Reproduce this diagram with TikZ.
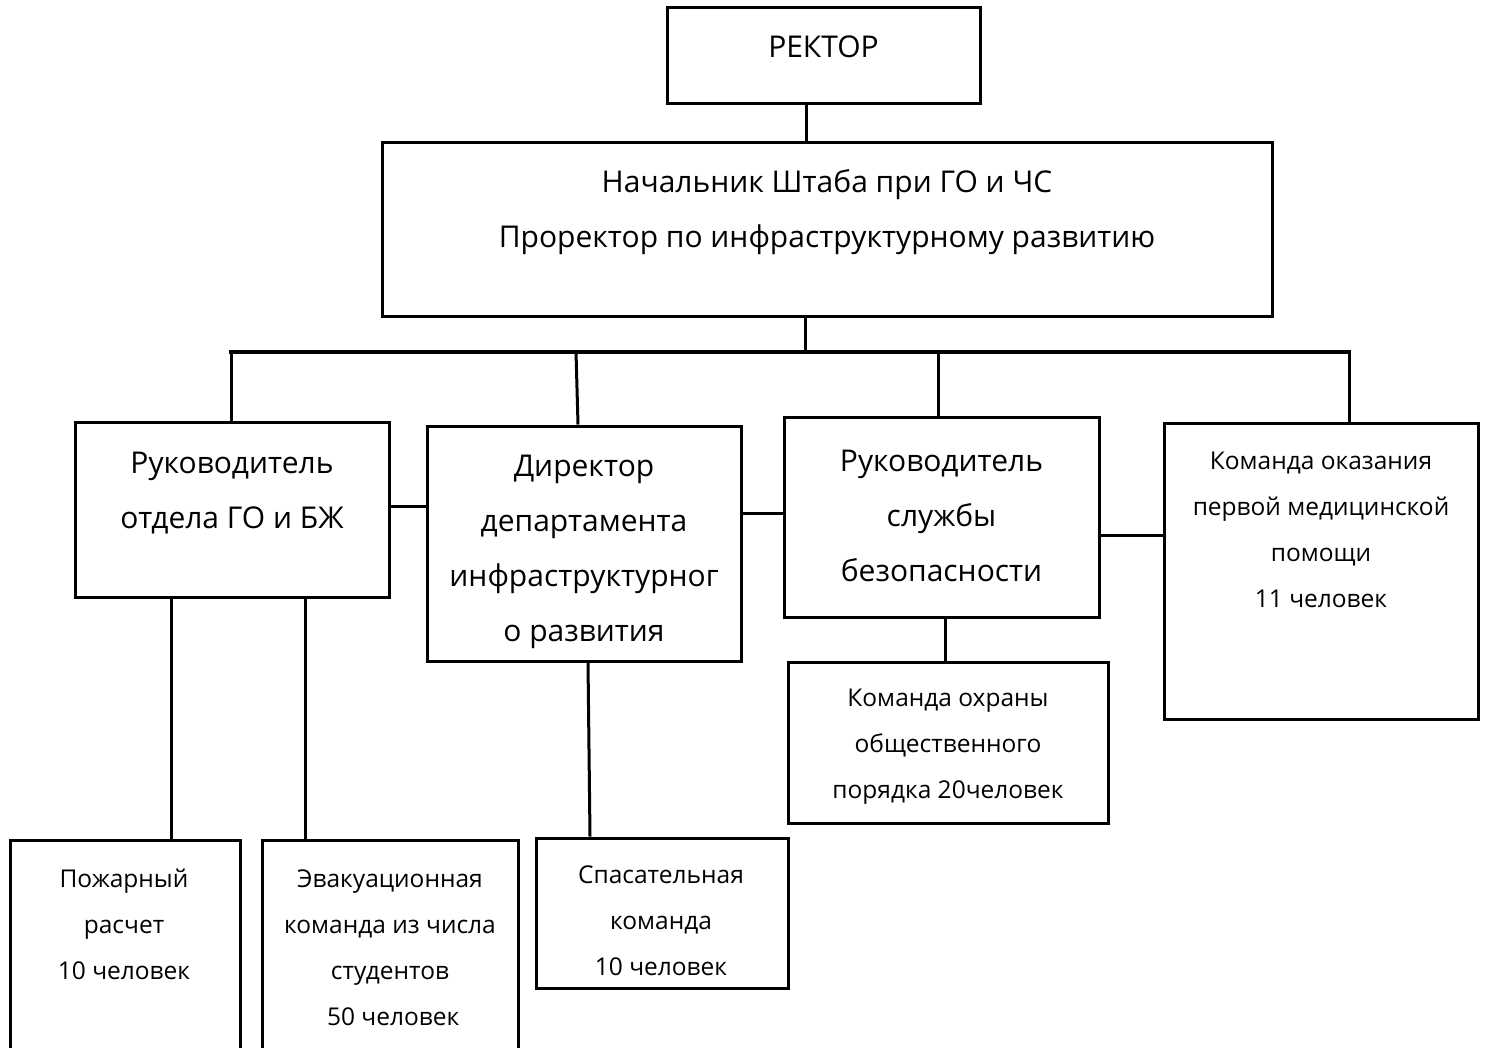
\documentclass[tikz,border=0pt]{standalone}
\usepackage{fontspec}
\setmainfont{Open Sans}
\begin{document}
\begin{tikzpicture}[x=1pt,y=-1pt,
  box/.style={draw,line width=3pt,inner sep=0pt},
  big/.style={align=center,font=\fontsize{30}{55}\selectfont},
  small/.style={align=center,font=\fontsize{24.5}{46}\selectfont},
  ln/.style={line width=3pt}]
\path[use as bounding box] (0,0) rectangle (1485,1047);
\clip (0,0) rectangle (1485,1047);
% boxes
\node[box,minimum width=313pt,minimum height=96pt] (rek) at (823.5,55) {};
\node[big] at (823.5,47) {РЕКТОР};
\node[box,minimum width=890pt,minimum height=174pt] (nach) at (827,229) {};
\node[big] at (827,212.5) {Начальник Штаба при ГО и ЧС\\Проректор по инфраструктурному развитию};
\node[box,minimum width=314pt,minimum height=175pt] (b1) at (232,509.5) {};
\node[big] at (232,493.5) {Руководитель\\отдела ГО и БЖ};
\node[box,minimum width=314pt,minimum height=235pt] (b2) at (584,543.5) {};
\node[big] at (584,551.5) {Директор\\департамента\\инфраструктурног\\о развития};
\node[box,minimum width=315pt,minimum height=200pt] (b3) at (941.5,517) {};
\node[big] at (941.5,516) {Руководитель\\службы\\безопасности};
\node[box,minimum width=314pt,minimum height=296pt] (b4) at (1321,571) {};
\node[small] at (1321,530) {Команда оказания\\первой медицинской\\помощи\\11 человек};
\node[box,minimum width=320pt,minimum height=161pt] (b5) at (948,742.5) {};
\node[small] at (948,746.5) {Команда охраны\\общественного\\порядка 20человек};
\node[box,minimum width=230pt,minimum height=240pt] (b6) at (125,960) {};
\node[small] at (124,924) {Пожарный\\расчет\\10 человек};
\node[box,minimum width=256pt,minimum height=240pt] (b7) at (390,960) {};
\node[small] at (390,947.5) {Эвакуационная\\команда из числа\\студентов\\\ 50 человек};
\node[box,minimum width=252pt,minimum height=150pt] (b8) at (662,913) {};
\node[small] at (661,921) {Спасательная\\команда\\10 человек};
% connectors
\coordinate (bus) at (805,352);
\draw[ln] (rek.south -| 806,0) -- (nach.north -| 806,0);
\draw[ln] (nach.south -| bus) -- (bus);
\draw[line width=4pt] (229,352) -- (1351,352);
\draw[ln] (231,352) -- (b1.north -| 231,0);
\draw[ln] (576,352) -- (b2.north -| 578,0);
\draw[ln] (938,352) -- (b3.north -| 938,0);
\draw[ln] (1349,352) -- (b4.north -| 1349,0);
\draw[ln] (b1.east |- 0,506) -- (b2.west |- 0,506);
\draw[ln] (b2.east |- 0,513) -- (b3.west |- 0,513);
\draw[ln] (b3.east |- 0,535) -- (b4.west |- 0,535);
\draw[ln] (b3.south -| 945,0) -- (b5.north -| 945,0);
\draw[ln] (b1.south -| 171,0) -- (b6.north -| 171,0);
\draw[ln] (b1.south -| 305,0) -- (b7.north -| 305,0);
\draw[ln] (b2.south -| 588,0) -- (b8.north -| 590,0);
\end{tikzpicture}
\end{document}
